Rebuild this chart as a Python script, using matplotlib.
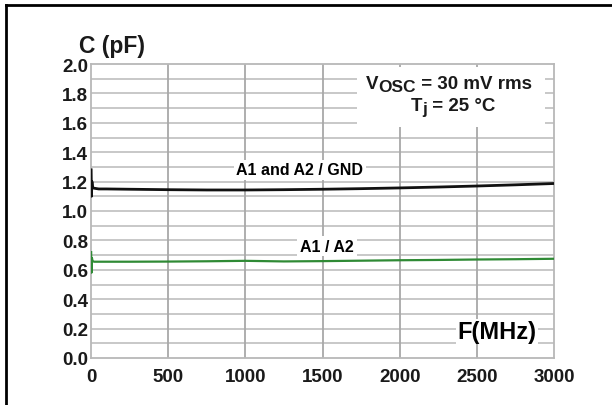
import matplotlib
matplotlib.use("Agg")
import matplotlib.pyplot as plt
from matplotlib.lines import Line2D
from matplotlib.patches import Rectangle
import numpy as np

# Frequency sweep (MHz) and measured capacitance (pF)
freq_mhz = [1, 3, 6, 10, 20, 50, 100, 250, 500, 750, 1000, 1250,
            1500, 1750, 2000, 2250, 2500, 2750, 3000]
c_gnd = [1.28, 1.10, 1.20, 1.16, 1.155, 1.15, 1.15, 1.148, 1.145, 1.143,
         1.143, 1.145, 1.148, 1.152, 1.157, 1.163, 1.170, 1.178, 1.187]
c_a1a2 = [0.72, 0.58, 0.68, 0.66, 0.655, 0.655, 0.655, 0.655, 0.656, 0.658,
          0.661, 0.657, 0.659, 0.662, 0.665, 0.667, 0.670, 0.672, 0.675]

x_ticks = [0, 500, 1000, 1500, 2000, 2500, 3000]
y_ticks = [0.0, 0.2, 0.4, 0.6, 0.8, 1.0, 1.2, 1.4, 1.6, 1.8, 2.0]

plt.rcParams["font.family"] = ["Liberation Sans", "DejaVu Sans"]
plt.rcParams["font.weight"] = "bold"

fig = plt.figure(figsize=(6.12, 4.06), dpi=100)
ax = fig.add_axes([91 / 612, 1 - 359 / 406, 463 / 612, 294 / 406])

# grid: light horizontal every 0.1, darker vertical every 500
for yv in np.arange(0.1, 2.0, 0.1):
    ax.axhline(yv, color="#c4c4c4", lw=1.3, zorder=1)
for xv in x_ticks[1:-1]:
    ax.axvline(xv, color="#a8a8a8", lw=1.3, zorder=1)

# white block that hides the grid behind the conditions text
ax.add_patch(Rectangle((1724, 1.57), 1218, 0.41, facecolor="white",
                       edgecolor="none", zorder=2))

ax.plot(freq_mhz, c_gnd, color="#111111", lw=2.0, zorder=4)
ax.plot(freq_mhz, c_a1a2, color="#2f8a35", lw=1.6, zorder=4)

box = dict(facecolor="white", edgecolor="none", pad=2.0)
ax.text(1354, 1.28, "A1 and A2 / GND", ha="center", va="center",
        fontsize=11.5, fontweight="bold", bbox=box, zorder=3)
ax.text(1529, 0.76, "A1 / A2", ha="center", va="center",
        fontsize=11.5, fontweight="bold", bbox=box, zorder=3)
ax.text(2630, 0.18, "F(MHz)", ha="center", va="center",
        fontsize=17, fontweight="bold", bbox=dict(facecolor="white",
        edgecolor="none", pad=1.0), zorder=3)

# conditions, built from pieces so the subscripts stay almost full size
cond = dict(fontsize=13.5, fontweight="bold", color="#1a1a1a", zorder=3)
sub = dict(fontsize=12.5, fontweight="bold", color="#1a1a1a", zorder=3)
tv = ax.text(1780, 1.87, "V", ha="left", va="center", **cond)
tosc = ax.annotate("OSC", xy=(1.0, 0.0), xycoords=tv, xytext=(0, -1.5),
                   textcoords="offset points", ha="left", va="bottom", **sub)
ax.annotate(" = 30 mV rms", xy=(1.0, 0.5), xycoords=(tosc, tv),
            ha="left", va="center", **cond)
tt = ax.text(2070, 1.72, "T", ha="left", va="center", **cond)
tj = ax.annotate("j", xy=(1.0, 0.0), xycoords=tt, xytext=(0, -1.5),
                 textcoords="offset points", ha="left", va="bottom", **sub)
ax.annotate(" = 25 °C", xy=(1.0, 0.5), xycoords=(tj, tt),
            ha="left", va="center", **cond)

ax.set_xlim(0, 3000)
ax.set_ylim(0, 2.0)
ax.set_xticks(x_ticks)
ax.set_yticks(y_ticks)
ax.set_xticklabels([str(v) for v in x_ticks])
ax.set_yticklabels([f"{v:.1f}" for v in y_ticks])
ax.tick_params(axis="x", length=0, labelsize=13.5, pad=7)
ax.tick_params(axis="y", length=0, labelsize=13.5, pad=2)
for lbl in ax.get_xticklabels() + ax.get_yticklabels():
    lbl.set_fontweight("bold")
    lbl.set_color("#1a1a1a")
for spine in ax.spines.values():
    spine.set_color("#b8b8b8")
    spine.set_linewidth(1.3)

fig.text(79 / 612, 1 - 46 / 406, "C (pF)", ha="left", va="center",
         fontsize=16.5, fontweight="bold", color="#1a1a1a")

# outer frame (cut off on the right and bottom)
fig.add_artist(Line2D([6 / 612, 1.0], [1 - 6 / 406, 1 - 6 / 406],
                      color="black", lw=2.0))
fig.add_artist(Line2D([6 / 612, 6 / 612], [0.0, 1 - 6 / 406],
                      color="black", lw=2.0))

fig.savefig("out.png", dpi=100)
